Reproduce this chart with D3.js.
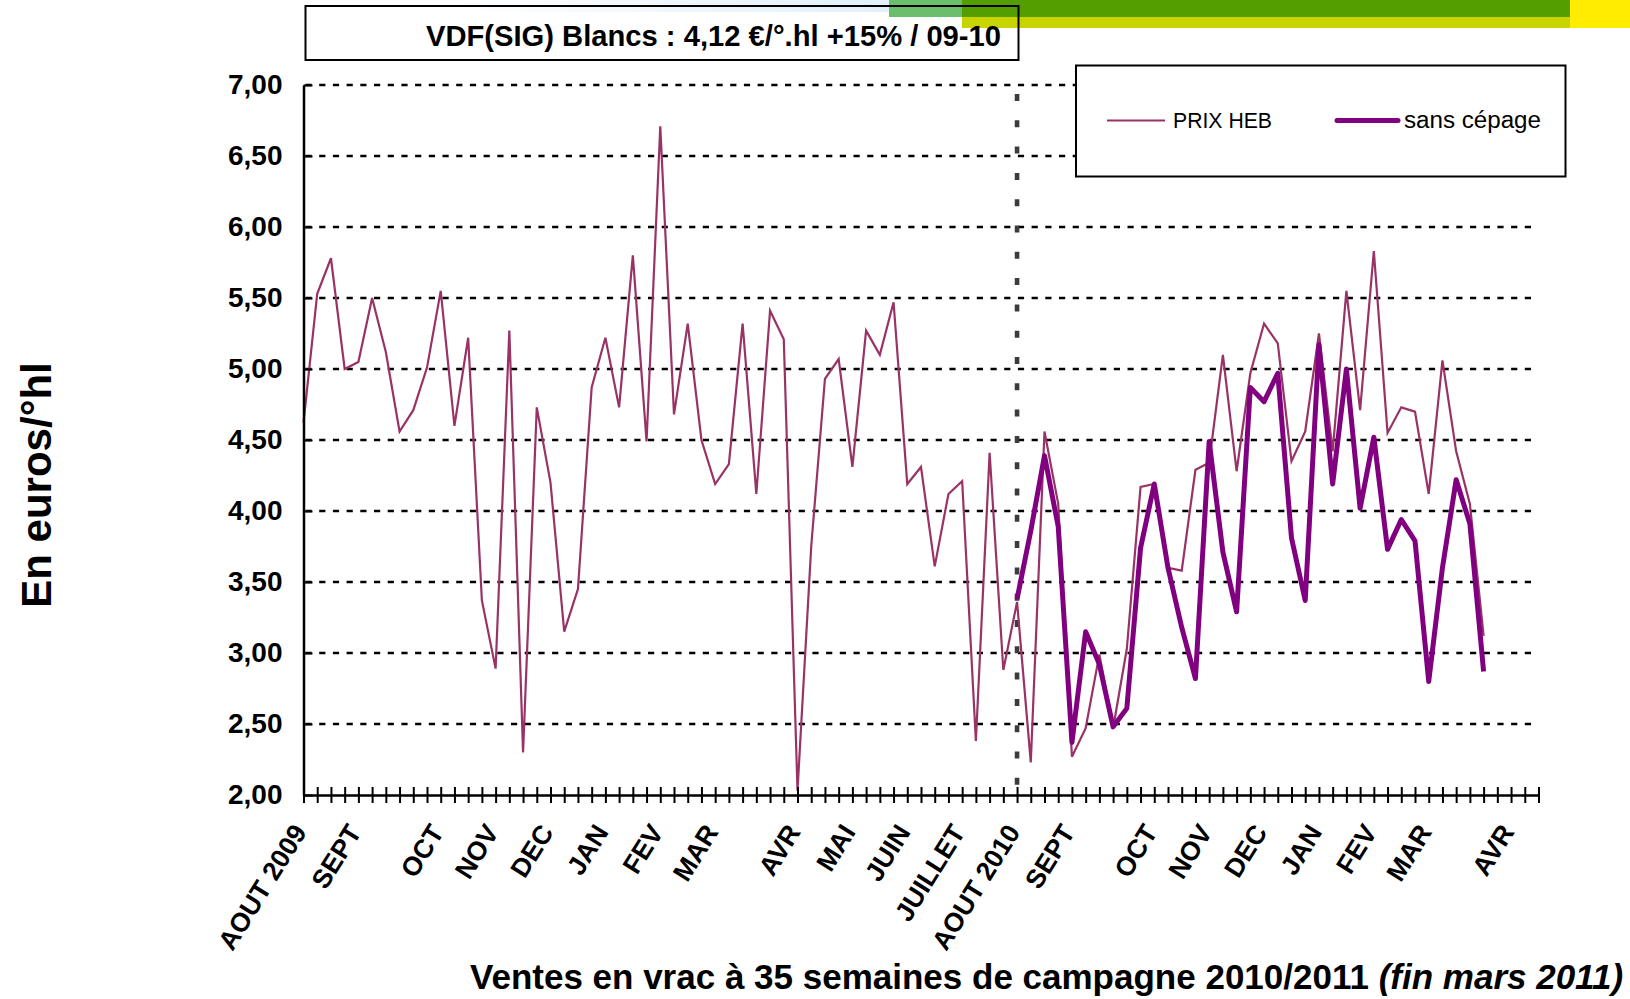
<!DOCTYPE html>
<html><head><meta charset="utf-8">
<script src="https://cdn.jsdelivr.net/npm/d3@7"></script>
<style>
html,body{margin:0;padding:0;background:#fff;}
svg{display:block;}
text{font-family:"Liberation Sans",Arial,sans-serif;}
</style>
</head><body>
<svg id="chart" width="1630" height="999"></svg>
<script>
// ---------- data ----------
const chartTitle = "VDF(SIG) Blancs : 4,12 €/°.hl +15% / 09-10";
const yTitle = "En euros/°hl";
const xTitleMain = "Ventes en vrac à 35 semaines de campagne 2010/2011 ";
const xTitleItalic = "(fin mars 2011)";
const seriesNames = ["PRIX HEB", "sans cépage"];
const lastWeek = 90;               // weeks on the axis: 0 .. 90
const campaignStartWeek = 52;      // AOUT 2010
const monthLabels = ["AOUT 2009","SEPT","OCT","NOV","DEC","JAN","FEV","MAR","AVR","MAI","JUIN","JUILLET",
                     "AOUT 2010","SEPT","OCT","NOV","DEC","JAN","FEV","MAR","AVR"];
const monthWeeks  = [0,4,10,14,18,22,26,30,36,40,44,48,52,56,62,66,70,74,78,82,88];
const yTicks = [2,2.5,3,3.5,4,4.5,5,5.5,6,6.5,7];

const prixHebStart = 0;
const prixHeb = [
  4.62,5.53,5.78,5.00,5.05,5.50,5.12,4.56,4.71,5.01,5.55,4.60,5.22,3.37,2.89,5.27,2.30,4.73,4.20,3.15,
  3.45,4.87,5.22,4.73,5.80,4.49,6.71,4.68,5.32,4.50,4.19,4.33,5.32,4.12,5.41,5.21,2.03,3.75,4.93,5.07,
  4.31,5.27,5.10,5.47,4.19,4.31,3.61,4.12,4.21,2.38,4.41,2.88,
  3.36,2.23,4.56,4.05,2.27,2.47,2.99,2.47,3.03,4.17,4.19,3.60,3.58,4.29,4.34,5.10,4.28,4.97,
  5.32,5.18,4.35,4.56,5.25,4.42,5.55,4.71,5.83,4.55,4.73,4.70,4.12,5.06,4.42,4.05,3.12
];
const sansCepageStart = 52;
const sansCepage = [
  3.38,3.86,4.39,3.89,2.37,3.15,2.92,2.48,2.61,3.74,4.19,3.60,3.18,2.82,4.49,3.71,3.29,4.87,4.77,
  4.97,3.81,3.37,5.17,4.19,5.00,4.02,4.52,3.73,3.94,3.79,2.80,3.60,4.22,3.91,2.87
];

// ---------- chart ----------
const svg = d3.select("#chart");
const x = d3.scaleLinear().domain([0, lastWeek]).range([303.5, 1538.5]);
const y = d3.scaleLinear().domain([2, 7]).range([795, 85]);
const fmt = d => d.toFixed(2).replace(".", ",");

// top decorations
const defs = svg.append("defs");
const grad = defs.append("linearGradient").attr("id","fade").attr("x1","0").attr("x2","1").attr("y1","0").attr("y2","0");
grad.append("stop").attr("offset","0").attr("stop-color","#ffffff");
grad.append("stop").attr("offset","1").attr("stop-color","#e2f0fa");
svg.append("rect").attr("x",455).attr("y",0).attr("width",434).attr("height",12).attr("fill","url(#fade)");
svg.append("rect").attr("x",889).attr("y",0).attr("width",73).attr("height",17).attr("fill","#6bbe6b");
svg.append("rect").attr("x",962).attr("y",0).attr("width",608).attr("height",17).attr("fill","#559e00");
svg.append("rect").attr("x",962).attr("y",17).attr("width",608).attr("height",11).attr("fill","#c8d400");
svg.append("rect").attr("x",1570).attr("y",0).attr("width",60).attr("height",28).attr("fill","#ffec00");

// title box
svg.append("rect").attr("x",305.5).attr("y",6).attr("width",713).attr("height",54)
  .attr("fill","none").attr("stroke","#000").attr("stroke-width",2);
svg.append("text").attr("x",1001).attr("y",45.5).attr("text-anchor","end")
  .attr("font-size",30).attr("font-weight","bold")
  .attr("textLength",575).attr("lengthAdjust","spacingAndGlyphs").text(chartTitle);

// gridlines
svg.append("g").selectAll("line").data(yTicks.filter(v => v > 2)).join("line")
  .attr("x1", x(0) + 2).attr("x2", x(lastWeek))
  .attr("y1", d => y(d)).attr("y2", d => y(d))
  .attr("stroke","#000").attr("stroke-width",2.6).attr("stroke-dasharray","6.2 7.5");

// campaign separator
svg.append("line").attr("x1", x(campaignStartWeek)).attr("x2", x(campaignStartWeek))
  .attr("y1", 94).attr("y2", y(2))
  .attr("stroke","#3c3c3c").attr("stroke-width",4.6).attr("stroke-dasharray","7 19.3");

// series
const line = d3.line().x(d => x(d.w)).y(d => y(d.v));
const prixPts = prixHeb.map((v,i) => ({w: prixHebStart + i, v}));
const sansPts = sansCepage.map((v,i) => ({w: sansCepageStart + i, v}));
svg.append("path").datum(prixPts).attr("d", line).attr("fill","none")
  .attr("stroke","#993366").attr("stroke-width",2.2).attr("stroke-linejoin","miter");
svg.append("path").datum(sansPts).attr("d", line).attr("fill","none")
  .attr("stroke","#800080").attr("stroke-width",5).attr("stroke-linejoin","round");

// x axis
const xAxis = svg.append("g").attr("transform", `translate(0,${y(2)})`)
  .call(d3.axisBottom(x).tickValues(d3.range(0, lastWeek + 1)).tickSize(8).tickSizeOuter(0).tickFormat(""));
xAxis.select(".domain").attr("stroke","#000").attr("stroke-width",2.5);
xAxis.selectAll(".tick line").attr("y1",-8).attr("stroke","#000").attr("stroke-width",2);

// y axis
const yAxis = svg.append("g").attr("transform", `translate(${x(0)},0)`)
  .call(d3.axisLeft(y).tickValues(yTicks).tickSize(9).tickSizeOuter(0).tickPadding(12).tickFormat(fmt));
yAxis.select(".domain").attr("stroke","#000").attr("stroke-width",2.5);
yAxis.selectAll(".tick line").attr("x2",9).attr("stroke","#000").attr("stroke-width",2);
yAxis.selectAll(".tick text").attr("font-size",28).attr("font-weight","bold")
  .attr("font-family","'Liberation Sans',Arial,sans-serif").attr("fill","#000");

// x labels
const rot = 58, lblSize = 26.5;
svg.append("g").selectAll("text").data(monthLabels).join("text")
  .attr("transform", (d,i) => `translate(${x(monthWeeks[i]) + 4},832) rotate(${-rot})`)
  .attr("text-anchor","end").attr("font-size",lblSize).attr("font-weight","bold").text(d => d);

// axis titles
svg.append("text").attr("transform","translate(51,485) rotate(-90)").attr("text-anchor","middle")
  .attr("font-size",42).attr("font-weight","bold").text(yTitle);
const xt = svg.append("text").attr("x",470).attr("y",989).attr("font-size",35).attr("font-weight","bold");
xt.append("tspan").text(xTitleMain);
xt.append("tspan").attr("font-style","italic").text(xTitleItalic);

// legend
const lg = svg.append("g");
lg.append("rect").attr("x",1076).attr("y",65.5).attr("width",489.5).attr("height",111)
  .attr("fill","#fff").attr("stroke","#000").attr("stroke-width",2);
lg.append("line").attr("x1",1107).attr("x2",1165).attr("y1",120.5).attr("y2",120.5)
  .attr("stroke","#993366").attr("stroke-width",2.2);
lg.append("text").attr("x",1173).attr("y",128).attr("font-size",22).attr("textLength",99)
  .attr("lengthAdjust","spacingAndGlyphs").text(seriesNames[0]);
lg.append("line").attr("x1",1337).attr("x2",1398).attr("y1",120.5).attr("y2",120.5)
  .attr("stroke","#800080").attr("stroke-width",5).attr("stroke-linecap","round");
lg.append("text").attr("x",1404).attr("y",128).attr("font-size",23).attr("textLength",137)
  .attr("lengthAdjust","spacingAndGlyphs").text(seriesNames[1]);
</script>
</body></html>
